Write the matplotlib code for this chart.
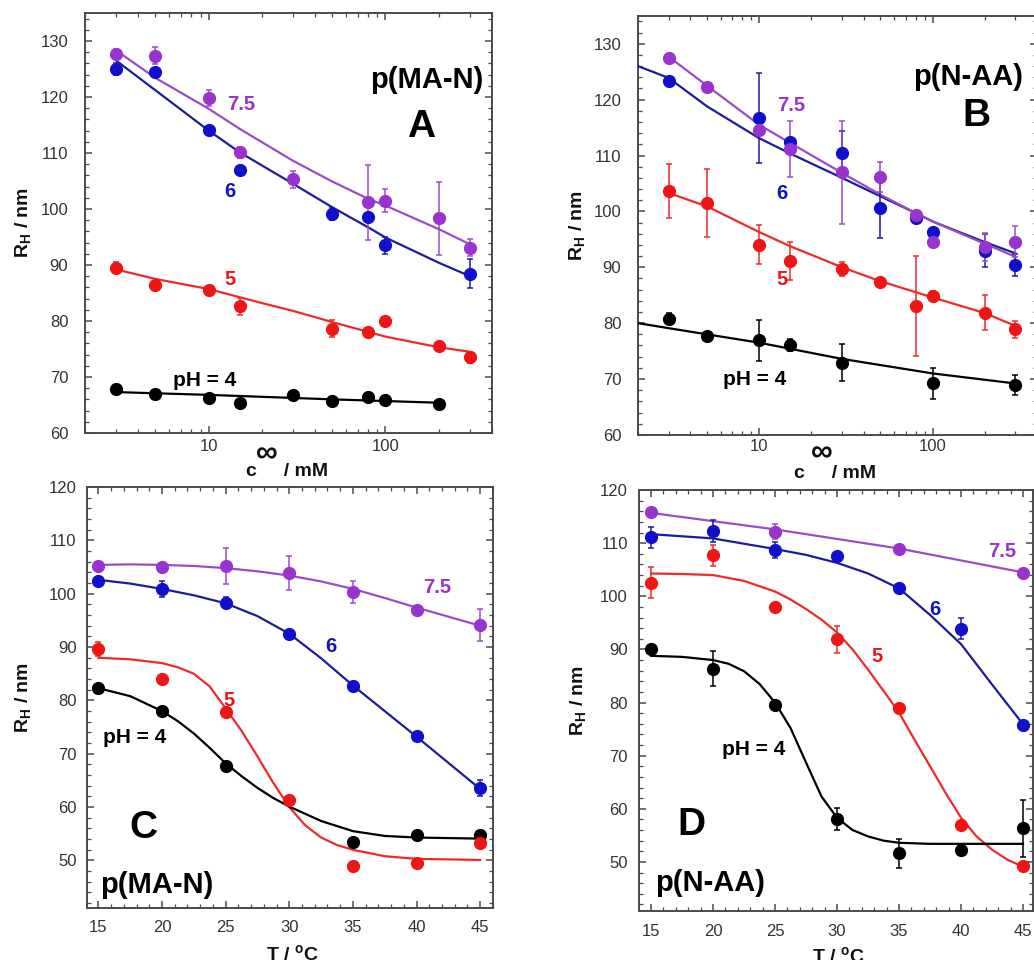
import matplotlib
matplotlib.use("Agg")
import matplotlib.pyplot as plt
from matplotlib.ticker import MultipleLocator, NullFormatter, FixedLocator, LogLocator

plt.rcParams['font.family'] = ['Liberation Sans', 'DejaVu Sans']
plt.rcParams['mathtext.fontset'] = 'custom'
plt.rcParams['mathtext.rm'] = 'Liberation Sans:bold'
plt.rcParams['mathtext.bf'] = 'Liberation Sans:bold'
plt.rcParams['mathtext.it'] = 'Liberation Sans:bold'

# ---------------- colours ----------------
C_PUR, C_BLU, C_RED, C_BLK = '#9a32cd', '#1010cc', '#f01515', '#000000'
L_PUR, L_BLU, L_RED, L_BLK = '#9a4cc8', '#1c1c9c', '#ee2a2a', '#000000'

# ---------------- Panel A : p(MA-N) vs salt ----------------
A_pur_x = [3, 5, 10, 15, 30, 80, 100, 200, 300]
A_pur_y = [127.7, 127.4, 119.8, 110.1, 105.3, 101.2, 101.5, 98.3, 93.1]
A_pur_e = [0.8, 1.5, 1.5, 1.0, 1.5, 6.7, 2.0, 6.6, 1.5]
A_blu_x = [3, 5, 10, 15, 50, 80, 100, 300]
A_blu_y = [125.0, 124.4, 114.1, 107.0, 99.1, 98.5, 93.5, 88.4]
A_blu_e = [1.0, 0.5, 0.5, 0.5, 1.0, 0.5, 1.5, 2.6]
A_red_x = [3, 5, 10, 15, 50, 80, 100, 200, 300]
A_red_y = [89.5, 86.4, 85.5, 82.6, 78.6, 78.0, 80.0, 75.5, 73.5]
A_red_e = [1.0, 0, 0, 1.5, 1.5, 0, 0, 0, 1.0]
A_blk_x = [3, 5, 10, 15, 30, 50, 80, 100, 200]
A_blk_y = [67.9, 66.9, 66.3, 65.3, 66.7, 65.7, 66.4, 65.8, 65.1]
A_blk_e = [0, 0, 0, 0, 0, 0, 0, 0, 0]
# fit curves
A_fit_x = [3, 5, 10, 15, 30, 50, 80, 100, 200, 300]
A_fit_pur = [128.3, 123.4, 117.9, 114.3, 108.6, 104.9, 101.8, 100.6, 96.4, 93.7]
A_fit_blu = [126.5, 121.2, 114.0, 110.1, 104.5, 100.3, 96.7, 94.9, 90.4, 88.0]
A_fit_red_x = [3, 5, 10, 20, 30, 50, 100, 200, 300]
A_fit_red = [89.2, 87.5, 85.7, 83.2, 81.8, 79.8, 77.2, 75.3, 74.5]
A_fit_blk_x = [3, 10, 50, 200]
A_fit_blk = [67.3, 66.8, 66.0, 65.4]

# ---------------- Panel B : p(N-AA) vs salt ----------------
B_pur_x = [3, 5, 10, 15, 30, 50, 80, 100, 200, 300]
B_pur_y = [127.5, 122.2, 114.5, 111.1, 107.0, 106.2, 99.4, 94.5, 93.7, 94.6]
B_pur_e = [0, 0, 0, 5.0, 9.2, 2.7, 0, 0, 2.5, 2.7]
B_blu_x = [3, 10, 15, 30, 50, 80, 100, 200, 300]
B_blu_y = [123.3, 116.7, 112.4, 110.4, 100.6, 98.8, 96.3, 93.0, 90.4]
B_blu_e = [0.5, 8.1, 0.5, 3.9, 5.3, 0, 0, 3.0, 2.0]
B_red_x = [3, 5, 10, 15, 30, 50, 80, 100, 200, 300]
B_red_y = [103.7, 101.5, 94.0, 91.1, 89.7, 87.4, 83.1, 84.9, 81.9, 78.9]
B_red_e = [4.8, 6.1, 3.5, 3.4, 1.2, 0, 9.0, 0.8, 3.1, 1.5]
B_blk_x = [3, 5, 10, 15, 30, 100, 300]
B_blk_y = [80.8, 77.7, 76.9, 76.1, 72.9, 69.2, 69.0]
B_blk_e = [1.0, 0, 3.7, 1.0, 3.3, 2.7, 1.8]
B_fit_blu_x = [2, 3, 5, 10, 15, 30, 50, 80, 100, 200, 300]
B_fit_blu = [126.0, 123.9, 118.8, 113.1, 110.4, 106.0, 102.7, 99.7, 98.2, 94.5, 92.5]
B_fit_pur_x = [3, 5, 10, 15, 30, 50, 80, 100, 200, 300]
B_fit_pur = [127.7, 122.5, 115.5, 112.3, 106.9, 103.0, 99.7, 98.2, 94.2, 91.9]
B_fit_red_x = [3, 5, 10, 15, 30, 50, 100, 200, 300]
B_fit_red = [103.3, 100.9, 96.3, 93.8, 90.0, 87.5, 84.6, 81.8, 79.5]
B_fit_blk_x = [2, 3, 10, 30, 100, 300]
B_fit_blk = [80.0, 79.1, 76.5, 73.6, 71.0, 69.2]

# ---------------- Panel C : p(MA-N) vs T ----------------
C_x = [15, 20, 25, 30, 35, 40, 45]
C_pur_y = [105.2, 105.1, 105.2, 103.9, 100.3, 96.9, 94.1]
C_pur_e = [0.5, 0, 3.3, 3.2, 2.0, 0.5, 3.0]
C_blu_y = [102.4, 100.9, 98.3, 92.4, 82.7, 73.3, 63.5]
C_blu_e = [0.5, 1.5, 1.0, 0, 0, 0, 1.5]
C_red_y = [89.7, 84.0, 77.8, 61.3, 48.9, 49.5, 53.3]
C_red_e = [1.3, 0, 0, 0, 0, 0, 0]
C_blk_x = [15, 20, 25, 35, 40, 45]
C_blk_y = [82.4, 78.1, 67.8, 53.4, 54.8, 54.8]
C_blk_e = [0, 0, 0, 0, 0, 0]
C_fit_x = [15, 17.5, 20, 22.5, 25, 27.5, 30, 32.5, 35, 37.5, 40, 42.5, 45]
C_fit_pur = [105.4, 105.5, 105.4, 105.2, 104.8, 104.2, 103.4, 102.3, 100.9, 99.2, 97.4, 95.7, 94.0]
C_fit_blu = [102.6, 101.9, 100.9, 99.7, 98.2, 95.8, 92.5, 87.9, 82.8, 78.0, 73.2, 68.3, 63.4]
C_fit_red_x = [15, 17.5, 20, 21.25, 22.5, 23.75, 25, 26.25, 27.5, 28.75, 30,
               31.25, 32.5, 33.75, 35, 37.5, 40, 45]
C_fit_red = [88.0, 87.7, 87.0, 86.2, 85.0, 82.6, 78.5, 74.3, 69.5, 64.5, 60.0,
             56.6, 54.3, 52.9, 52.0, 50.8, 50.3, 50.1]
C_fit_blk_x = [15, 17.5, 20, 21.25, 22.5, 23.75, 25, 26.25, 27.5, 28.75, 30,
               32.5, 35, 37.5, 40, 45]
C_fit_blk = [82.3, 80.8, 78.0, 76.1, 73.8, 71.1, 68.2, 65.8, 63.6, 61.7, 60.1,
             57.4, 55.5, 54.6, 54.3, 54.1]

# ---------------- Panel D : p(N-AA) vs T ----------------
D_x = [15, 20, 25, 30, 35, 40, 45]
D_pur_x = [15, 25, 35, 45]
D_pur_y = [115.8, 112.2, 109.0, 104.3]
D_pur_e = [0.8, 1.5, 0, 0]
D_blu_y = [111.1, 112.3, 108.7, 107.6, 101.6, 93.9, 75.8]
D_blu_e = [2.0, 2.0, 1.5, 0, 0, 2.0, 0]
D_red_y = [102.6, 107.7, 97.9, 91.9, 78.9, 56.9, 49.2]
D_red_e = [3.0, 2.0, 0, 2.5, 0, 0, 0]
D_blk_y = [90.0, 86.4, 79.5, 58.1, 51.6, 52.2, 56.3]
D_blk_e = [0, 3.3, 0, 2.0, 2.7, 0, 5.3]
D_fit_pur_x = [15, 25, 35, 45]
D_fit_pur = [115.7, 112.6, 109.0, 104.5]
D_fit_blu_x = [15, 20, 25, 27.5, 30, 32.5, 35, 37.5, 40, 42.5, 45]
D_fit_blu = [111.7, 110.9, 108.9, 107.8, 106.3, 104.3, 101.5, 96.5, 91.0, 83.4, 75.9]
D_fit_red_x = [15, 17.5, 20, 22.5, 25, 26.25, 27.5, 28.75, 30, 31.25, 32.5, 33.75,
               35, 36.25, 37.5, 38.75, 40, 41.25, 42.5, 43.75, 45]
D_fit_red = [104.3, 104.2, 104.0, 102.9, 100.9, 99.4, 97.6, 95.6, 93.2, 90.0, 86.2, 82.2,
             78.1, 73.0, 68.0, 63.0, 58.3, 54.8, 52.3, 50.4, 49.1]
D_fit_blk_x = [15, 17.5, 20, 21.25, 22.5, 23.75, 25, 26.25, 27.5, 28.75, 30,
               31.25, 32.5, 33.75, 35, 37.5, 45]
D_fit_blk = [88.8, 88.6, 88.0, 87.3, 85.9, 83.5, 80.0, 75.2, 68.7, 62.3, 58.3,
             56.0, 54.8, 54.0, 53.6, 53.4, 53.4]

# ---------------- figure ----------------
fig = plt.figure(figsize=(10.34, 9.6), dpi=100)
axA = fig.add_axes([0.0822, 0.549, 0.3936, 0.4375])
axB = fig.add_axes([0.617, 0.547, 0.3859, 0.4365])
axC = fig.add_axes([0.0841, 0.0542, 0.3926, 0.4385])
axD = fig.add_axes([0.618, 0.051, 0.381, 0.4385])

TICKFONT = ['Liberation Sans Narrow', 'Liberation Sans', 'DejaVu Sans']


def series(ax, x, y, e, mc, lc):
    ax.errorbar(x, y, yerr=e, fmt='o', ms=8.5, color=mc, mfc=mc, mec=mc,
                ecolor=lc, elinewidth=1.1, capsize=2.2, capthick=1.1, zorder=4)


def fit(ax, x, y, lc):
    ax.plot(x, y, '-', color=lc, lw=1.6, zorder=3, solid_joinstyle='round')


def style(ax, logx, ypad, xpad):
    for s in ax.spines.values():
        s.set_color('#4a4a4a')
        s.set_linewidth(1.4)
    ax.tick_params(which='both', direction='in', top=True, right=True,
                   colors='#4a4a4a', labelcolor='#333333')
    ax.tick_params(which='major', length=5, width=1.1)
    ax.tick_params(which='minor', length=3, width=0.9)
    ax.tick_params(axis='y', pad=ypad)
    ax.tick_params(axis='x', pad=xpad)
    ax.yaxis.set_major_locator(MultipleLocator(10))
    ax.yaxis.set_minor_locator(MultipleLocator(2))
    if logx:
        ax.set_xscale('log')
        ax.xaxis.set_major_locator(FixedLocator([10, 100]))
        ax.set_xticks([10, 100])
        ax.set_xticklabels(['10', '100'])
        ax.xaxis.set_minor_locator(LogLocator(base=10, subs=range(2, 10)))
        ax.xaxis.set_minor_formatter(NullFormatter())
    else:
        ax.xaxis.set_major_locator(MultipleLocator(5))
        ax.xaxis.set_minor_locator(MultipleLocator(1))
    for lab in ax.get_xticklabels() + ax.get_yticklabels():
        lab.set_family(TICKFONT)
        lab.set_fontsize(12)


def lab(ax, x, y, s, c, size=14.5, ha='center'):
    ax.text(x, y, s, color=c, fontsize=size, fontweight='bold', ha=ha,
            va='center', transform=ax.transAxes, zorder=6)


# Panel A
fit(axA, A_fit_x, A_fit_pur, L_PUR)
fit(axA, A_fit_x, A_fit_blu, L_BLU)
fit(axA, A_fit_red_x, A_fit_red, L_RED)
fit(axA, A_fit_blk_x, A_fit_blk, L_BLK)
series(axA, A_blk_x, A_blk_y, A_blk_e, C_BLK, L_BLK)
series(axA, A_red_x, A_red_y, A_red_e, C_RED, L_RED)
series(axA, A_blu_x, A_blu_y, A_blu_e, C_BLU, L_BLU)
series(axA, A_pur_x, A_pur_y, A_pur_e, C_PUR, L_PUR)
axA.set_xlim(2, 400)
axA.set_ylim(60, 135)
style(axA, True, 12, 4)

# Panel B
fit(axB, B_fit_blu_x, B_fit_blu, L_BLU)
fit(axB, B_fit_pur_x, B_fit_pur, L_PUR)
fit(axB, B_fit_red_x, B_fit_red, L_RED)
fit(axB, B_fit_blk_x, B_fit_blk, L_BLK)
series(axB, B_blk_x, B_blk_y, B_blk_e, C_BLK, L_BLK)
series(axB, B_red_x, B_red_y, B_red_e, C_RED, L_RED)
series(axB, B_blu_x, B_blu_y, B_blu_e, C_BLU, L_BLU)
series(axB, B_pur_x, B_pur_y, B_pur_e, C_PUR, L_PUR)
axB.set_xlim(2, 400)
axB.set_ylim(60, 135)
style(axB, True, 12, 3)

# Panel C
fit(axC, C_fit_x, C_fit_pur, L_PUR)
fit(axC, C_fit_x, C_fit_blu, L_BLU)
fit(axC, C_fit_red_x, C_fit_red, L_RED)
fit(axC, C_fit_blk_x, C_fit_blk, L_BLK)
series(axC, C_blk_x, C_blk_y, C_blk_e, C_BLK, L_BLK)
series(axC, C_x, C_red_y, C_red_e, C_RED, L_RED)
series(axC, C_x, C_blu_y, C_blu_e, C_BLU, L_BLU)
series(axC, C_x, C_pur_y, C_pur_e, C_PUR, L_PUR)
axC.set_xlim(14.1, 46)
axC.set_ylim(41.1, 120)
style(axC, False, 7.5, 8.5)

# Panel D
fit(axD, D_fit_pur_x, D_fit_pur, L_PUR)
fit(axD, D_fit_blu_x, D_fit_blu, L_BLU)
fit(axD, D_fit_red_x, D_fit_red, L_RED)
fit(axD, D_fit_blk_x, D_fit_blk, L_BLK)
series(axD, D_x, D_blk_y, D_blk_e, C_BLK, L_BLK)
series(axD, D_x, D_red_y, D_red_e, C_RED, L_RED)
series(axD, D_x, D_blu_y, D_blu_e, C_BLU, L_BLU)
series(axD, D_pur_x, D_pur_y, D_pur_e, C_PUR, L_PUR)
axD.set_xlim(14.03, 45.8)
axD.set_ylim(40.75, 120)
style(axD, False, 8, 9)

# axis labels
ylab = r'R$_{\mathbf{H}}$ / nm'
for ax, xc in ((axA, -0.128), (axB, -0.128), (axC, -0.133), (axD, -0.129)):
    ax.set_ylabel(ylab, fontsize=14, fontweight='bold', color='#111111')
    ax.yaxis.set_label_coords(xc, 0.5)

for ax, xc, yc, ix, iy in ((axA, 0.496, -0.071, 0.448, -0.050),
                           (axB, 0.494, -0.072, 0.462, -0.044)):
    ax.set_xlabel('c     / mM', fontsize=14, fontweight='bold', color='#111111')
    ax.xaxis.set_label_coords(xc, yc)
    ax.text(ix, iy, '\u221e', transform=ax.transAxes, fontsize=22,
            fontweight='bold', ha='center', va='center', color='#111111')

for ax, xc, yc in ((axC, 0.505, -0.086), (axD, 0.505, -0.082)):
    ax.set_xlabel(r'T / $^{\mathbf{o}}$C', fontsize=14, fontweight='bold', color='#111111')
    ax.xaxis.set_label_coords(xc, yc)

# in-panel annotations
lab(axA, 0.978, 0.840, 'p(MA-N)', '#000000', 21, ha='right')
lab(axA, 0.827, 0.729, 'A', '#000000', 28)
lab(axA, 0.383, 0.783, '7.5', C_PUR)
lab(axA, 0.356, 0.575, '6', C_BLU)
lab(axA, 0.356, 0.366, '5', C_RED)
lab(axA, 0.295, 0.126, 'pH = 4', '#000000', 15)

lab(axB, 0.966, 0.855, 'p(N-AA)', '#000000', 21, ha='right')
lab(axB, 0.849, 0.760, 'B', '#000000', 28)
lab(axB, 0.385, 0.785, '7.5', C_PUR)
lab(axB, 0.360, 0.577, '6', C_BLU)
lab(axB, 0.360, 0.370, '5', C_RED)
lab(axB, 0.293, 0.131, 'pH = 4', '#000000', 15)

lab(axC, 0.862, 0.762, '7.5', C_PUR)
lab(axC, 0.600, 0.622, '6', C_BLU)
lab(axC, 0.350, 0.492, '5', C_RED)
lab(axC, 0.118, 0.404, 'pH = 4', '#000000', 15)
lab(axC, 0.140, 0.190, 'C', '#000000', 28)
lab(axC, 0.032, 0.055, 'p(MA-N)', '#000000', 21, ha='left')

lab(axD, 0.923, 0.853, '7.5', C_PUR)
lab(axD, 0.751, 0.716, '6', C_BLU)
lab(axD, 0.604, 0.604, '5', C_RED)
lab(axD, 0.291, 0.384, 'pH = 4', '#000000', 15)
lab(axD, 0.134, 0.204, 'D', '#000000', 28)
lab(axD, 0.041, 0.066, 'p(N-AA)', '#000000', 21, ha='left')

fig.savefig('out.png', dpi=100)
